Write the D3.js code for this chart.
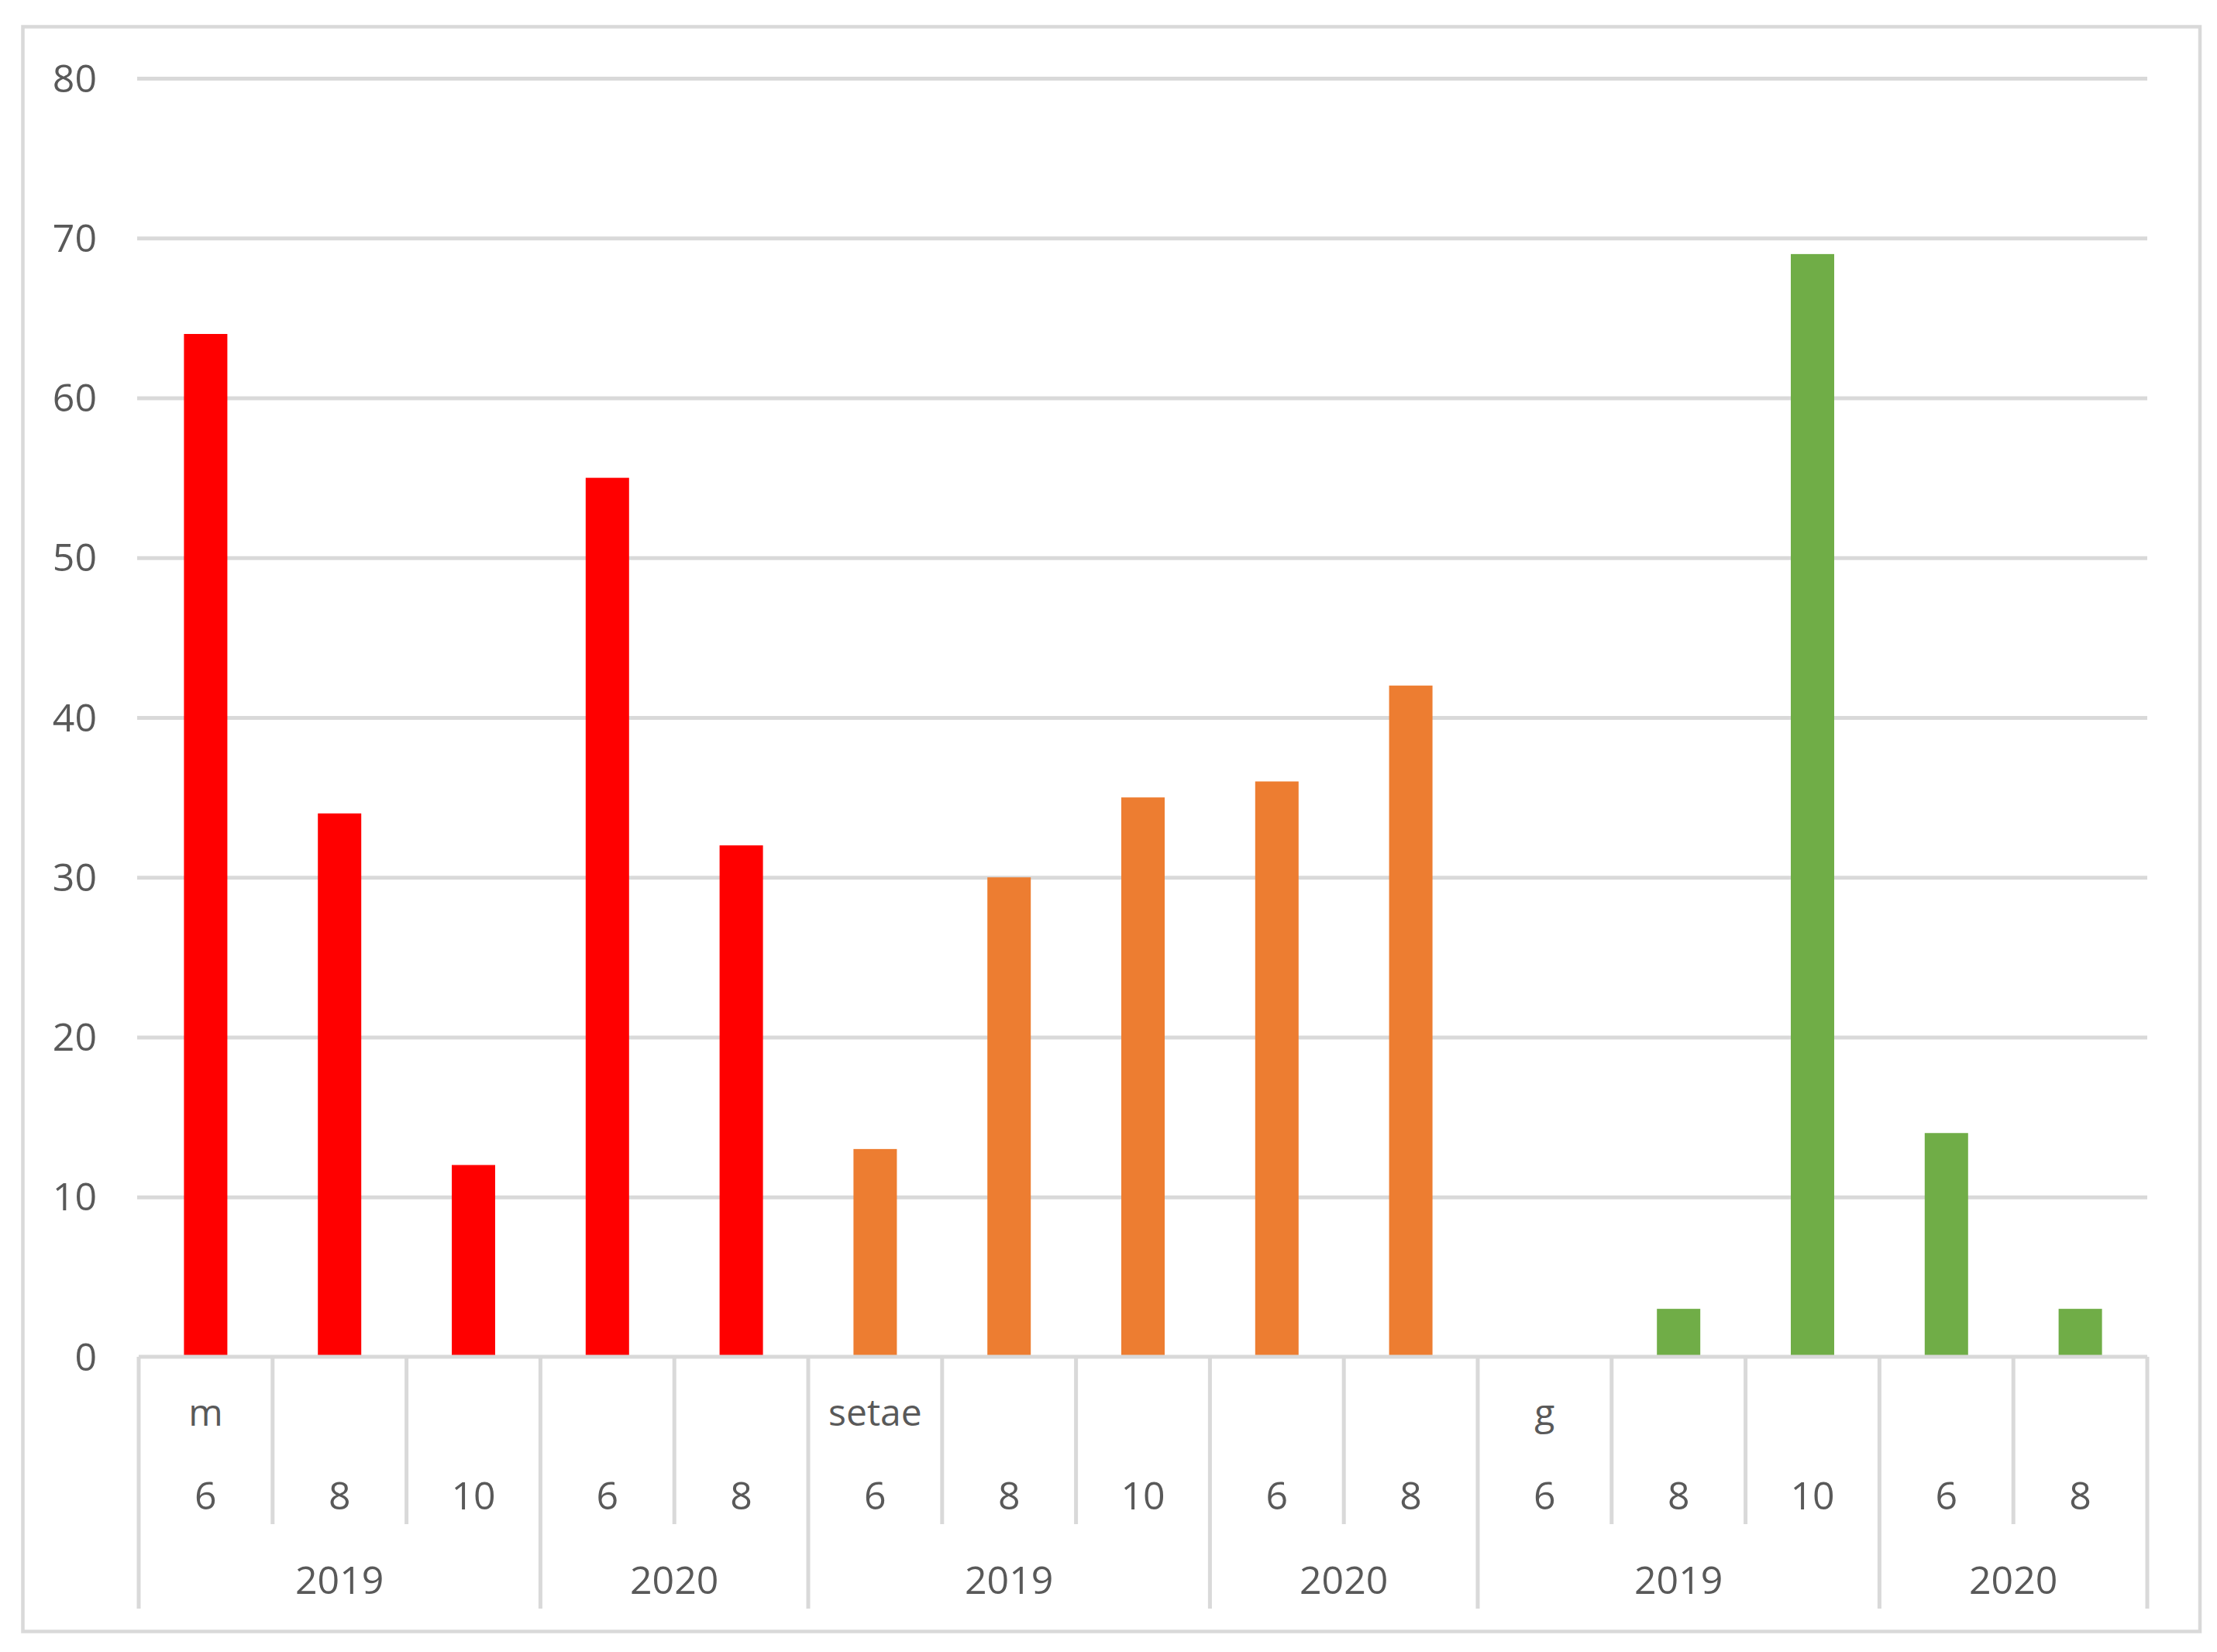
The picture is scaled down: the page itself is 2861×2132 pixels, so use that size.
<!DOCTYPE html>
<html>
<head>
<meta charset="utf-8">
<script src="https://cdn.jsdelivr.net/npm/d3@7"></script>
<style>
  html, body { margin: 0; padding: 0; background: #fff; }
  svg { display: block; }
  text { font-family: "Open Sans", "Noto Sans", sans-serif; fill: #595959; }
</style>
</head>
<body>
<script>
// ---- data ----
const groups = ["m", "setae", "g"];
const years = ["2019", "2020"];
const monthsByYear = { "2019": ["6", "8", "10"], "2020": ["6", "8"] };
const mValues = [64, 34, 12, 55, 32];
const setaeValues = [13, 30, 35, 36, 42];
const gValues = [0, 3, 69, 14, 3];
const groupColors = ["#FF0000", "#ED7D31", "#70AD47"];
const yTicks = [0, 10, 20, 30, 40, 50, 60, 70, 80];

(function () {
const valuesByGroup = [mValues, setaeValues, gValues];

// flatten categories
const cats = [];
groups.forEach((g, gi) => {
  let k = 0;
  years.forEach(yr => {
    monthsByYear[yr].forEach((mo, mi) => {
      cats.push({ id: g + "|" + yr + "|" + mo, group: g, gi, year: yr, month: mo,
                  firstInGroup: k === 0, firstInYear: mi === 0,
                  value: valuesByGroup[gi][k] });
      k++;
    });
  });
});

// ---- layout ----
const W = 2861, H = 2132;
const pLeft = 179, pRight = 2771, pTop = 101, pBottom = 1751;
const gridStroke = "#D9D9D9";
const sw = 5;

const svg = d3.select("body").append("svg").attr("width", W).attr("height", H);

// outer border
svg.append("rect").attr("x", 29.5).attr("y", 34.5).attr("width", 2839 - 29.5).attr("height", 2105.5 - 34.5)
  .attr("fill", "#fff").attr("stroke", gridStroke).attr("stroke-width", 4.5);

const x = d3.scaleBand().domain(cats.map(d => d.id)).range([pLeft, pRight]).padding(0);
const y = d3.scaleLinear().domain([0, 80]).range([pBottom, pTop]);

// y axis with gridlines
const yAxis = d3.axisLeft(y).tickValues(yTicks).tickSize(-(pRight - 177)).tickPadding(52);
const gy = svg.append("g").attr("transform", "translate(177,0)").call(yAxis);
gy.select(".domain").remove();
gy.selectAll(".tick line").attr("stroke", gridStroke).attr("stroke-width", sw);
gy.selectAll(".tick text").attr("font-size", 50).attr("fill", "#595959")
  .attr("font-family", '"Open Sans", sans-serif').attr("dy", "0.34em");
gy.selectAll(".tick").filter(d => d === 0).select("line").remove();

// bars
const barW = 56;
svg.append("g").selectAll("rect").data(cats.filter(d => d.value > 0)).join("rect")
  .attr("x", d => x(d.id) + x.bandwidth() / 2 - barW / 2)
  .attr("width", barW)
  .attr("y", d => y(d.value))
  .attr("height", d => y(0) - y(d.value))
  .attr("fill", d => groupColors[d.gi]);

// category axis baseline
svg.append("line").attr("x1", pLeft).attr("x2", pRight).attr("y1", y(0)).attr("y2", y(0))
  .attr("stroke", gridStroke).attr("stroke-width", sw);

// separators
const shortEnd = 1967, longEnd = 2076;
const bounds = cats.map(d => ({ pos: x(d.id), long: d.firstInYear }));
bounds.push({ pos: pRight, long: true });
svg.append("g").selectAll("line").data(bounds).join("line")
  .attr("x1", d => d.pos).attr("x2", d => d.pos)
  .attr("y1", y(0)).attr("y2", d => d.long ? longEnd : shortEnd)
  .attr("stroke", gridStroke).attr("stroke-width", sw);

// group labels
svg.append("g").selectAll("text").data(cats.filter(d => d.firstInGroup)).join("text")
  .attr("x", d => x(d.id) + x.bandwidth() / 2).attr("y", 1840)
  .attr("text-anchor", "middle").attr("font-size", 48).text(d => d.group);

// month labels
svg.append("g").selectAll("text").data(cats).join("text")
  .attr("x", d => x(d.id) + x.bandwidth() / 2).attr("y", 1948)
  .attr("text-anchor", "middle").attr("font-size", 50).text(d => d.month);

// year labels
const yearSpans = [];
groups.forEach(g => years.forEach(yr => {
  const cs = cats.filter(c => c.group === g && c.year === yr);
  yearSpans.push({ year: yr, x0: x(cs[0].id), x1: x(cs[cs.length - 1].id) + x.bandwidth() });
}));
svg.append("g").selectAll("text").data(yearSpans).join("text")
  .attr("x", d => (d.x0 + d.x1) / 2).attr("y", 2057)
  .attr("text-anchor", "middle").attr("font-size", 50).text(d => d.year);
})();
</script>
</body>
</html>
